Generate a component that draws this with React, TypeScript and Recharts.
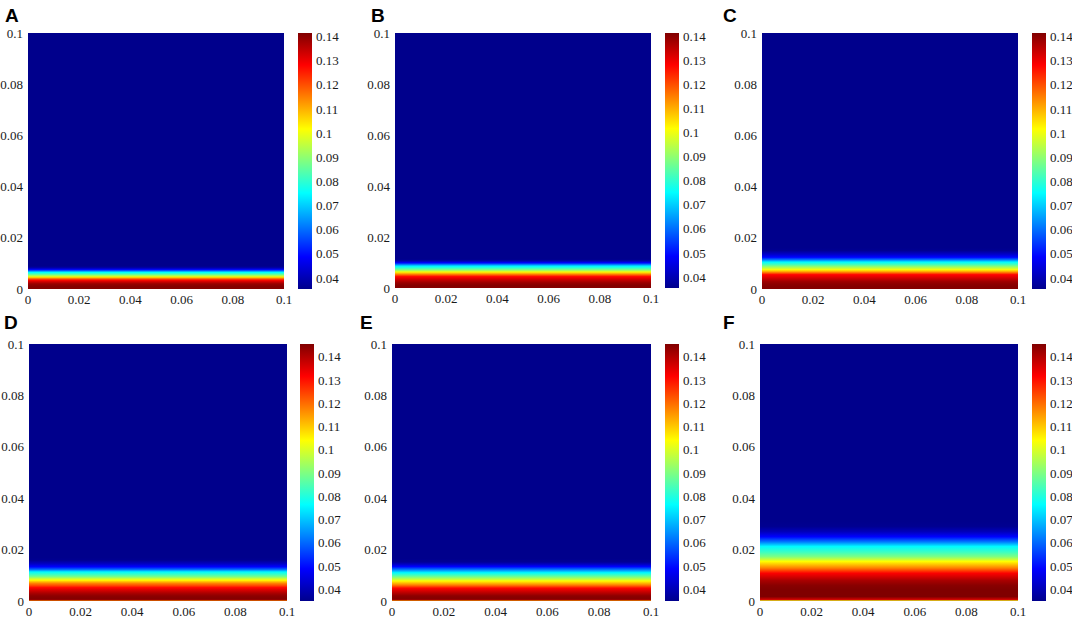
import { ComposedChart, ReferenceArea, XAxis, YAxis } from "recharts";

// axis ticks (m) and colour-bar ticks (concentration)
const axisTicks = [0, 0.02, 0.04, 0.06, 0.08, 0.1];
const colorTicks = [0.04, 0.05, 0.06, 0.07, 0.08, 0.09, 0.1, 0.11, 0.12, 0.13, 0.14];

// colour limits of the two rows
const rangeTop = [0.0354, 0.1415];
const rangeBottom = [0.035, 0.1455];

const panelNames = ["A", "B", "C", "D", "E", "F"];

// concentration profiles: depth above the bottom edge (m) -> value
const depthA = [0, 0.001, 0.002, 0.003, 0.0035, 0.004, 0.0045, 0.005, 0.0055, 0.006, 0.0065, 0.007, 0.0075, 0.008, 0.0085, 0.009];
const concA = [0.141, 0.141, 0.139, 0.132, 0.127, 0.118, 0.107, 0.097, 0.088, 0.081, 0.075, 0.063, 0.05, 0.042, 0.037, 0.0355];

const depthB = [0, 0.001, 0.002, 0.003, 0.004, 0.0045, 0.005, 0.0055, 0.006, 0.0065, 0.007, 0.0075, 0.008, 0.0085, 0.009, 0.0095, 0.01, 0.0105, 0.011, 0.0115];
const concB = [0.141, 0.141, 0.139, 0.135, 0.13, 0.127, 0.12, 0.113, 0.105, 0.098, 0.09, 0.084, 0.079, 0.074, 0.066, 0.055, 0.046, 0.04, 0.036, 0.0355];

const depthC = [0, 0.001, 0.002, 0.003, 0.004, 0.005, 0.0056, 0.006, 0.0065, 0.007, 0.0076, 0.008, 0.0089, 0.0095, 0.0105, 0.0115, 0.0124, 0.0135, 0.015, 0.016];
const concC = [0.141, 0.141, 0.14, 0.138, 0.134, 0.13, 0.128, 0.122, 0.115, 0.108, 0.101, 0.097, 0.089, 0.083, 0.075, 0.06, 0.049, 0.042, 0.036, 0.0355];

const depthD = [0, 0.0004, 0.001, 0.002, 0.003, 0.004, 0.0052, 0.006, 0.0068, 0.0075, 0.0081, 0.0088, 0.0094, 0.0103, 0.0113, 0.0123, 0.0133, 0.0145, 0.0159, 0.017];
const concD = [0.115, 0.143, 0.145, 0.144, 0.141, 0.137, 0.131, 0.124, 0.118, 0.111, 0.104, 0.097, 0.09, 0.083, 0.076, 0.06, 0.049, 0.041, 0.0355, 0.035];

const depthE = [0, 0.0004, 0.001, 0.002, 0.003, 0.004, 0.005, 0.0062, 0.007, 0.0078, 0.0085, 0.0093, 0.01, 0.011, 0.0122, 0.0134, 0.0143, 0.0152, 0.0165];
const concE = [0.112, 0.142, 0.145, 0.144, 0.14, 0.136, 0.131, 0.118, 0.111, 0.104, 0.097, 0.09, 0.084, 0.076, 0.062, 0.049, 0.041, 0.036, 0.035];

const depthF = [0, 0.0006, 0.0017, 0.003, 0.0045, 0.0061, 0.008, 0.0095, 0.0108, 0.0118, 0.0128, 0.0141, 0.0154, 0.0163, 0.0173, 0.019, 0.0212, 0.023, 0.025, 0.027, 0.029, 0.031];
const concF = [0.1, 0.137, 0.1455, 0.1455, 0.1455, 0.1445, 0.141, 0.136, 0.132, 0.125, 0.118, 0.111, 0.104, 0.097, 0.09, 0.083, 0.076, 0.062, 0.049, 0.04, 0.0355, 0.035];

const depths = [depthA, depthB, depthC, depthD, depthE, depthF];
const concs = [concA, concB, concC, concD, concE, concF];
const ranges = [rangeTop, rangeTop, rangeTop, rangeBottom, rangeBottom, rangeBottom];

// page geometry: plot box, colour bar x, panel letter
const boxes = [
  { x: 28, y: 33, w: 256, h: 256, bar: 298, lx: 5, ly: 6 },
  { x: 395, y: 33, w: 256, h: 255, bar: 665, lx: 371, ly: 6 },
  { x: 762, y: 33, w: 256, h: 256, bar: 1032, lx: 723, ly: 6 },
  { x: 29, y: 344, w: 258, h: 257, bar: 300, lx: 4, ly: 313 },
  { x: 392, y: 344, w: 259, h: 257, bar: 665, lx: 360, ly: 313 },
  { x: 760, y: 344, w: 258, h: 257, bar: 1032, lx: 723, ly: 313 },
];

const tickStyle = { fill: "#1a1a1a", fontSize: 13, fontFamily: "'Liberation Serif', 'Times New Roman', serif" };

const clamp = (v: number) => Math.max(0, Math.min(1, v));

function jet(t: number) {
  const u = clamp(t);
  const r = clamp(Math.min(4 * u - 1.5, -4 * u + 4.5));
  const g = clamp(Math.min(4 * u - 0.5, -4 * u + 3.5));
  const b = clamp(Math.min(4 * u + 0.55, -4 * u + 2.5));
  const h = (v: number) => Math.round(v * 255).toString(16).padStart(2, "0");
  return `#${h(r)}${h(g)}${h(b)}`;
}

const fmt = (v: number) => String(v);

function Panel({ i }: { i: number }) {
  const box = boxes[i];
  const depth = depths[i];
  const conc = concs[i];
  const range = ranges[i];
  const name = panelNames[i];
  const span = range[1] - range[0];
  const top = depth[depth.length - 1];
  const fieldId = `field-${name}`;
  const barId = `bar-${name}`;
  const barStops = [0, 0.125, 0.25, 0.375, 0.5, 0.625, 0.75, 0.875, 1];

  return (
    <>
      <div
        style={{
          position: "absolute",
          left: box.lx,
          top: box.ly,
          fontFamily: "'Liberation Sans', Arial, sans-serif",
          fontWeight: 700,
          fontSize: 19,
          lineHeight: "19px",
          color: "#000",
        }}
      >
        {name}
      </div>

      <div style={{ position: "absolute", left: box.x - 40, top: box.y - 10 }}>
        <ComposedChart
          width={box.w + 54}
          height={box.h + 35}
          margin={{ top: 10, right: 14, bottom: 0, left: 0 }}
        >
          <defs>
            <linearGradient id={fieldId} x1="0" y1="1" x2="0" y2="0">
              {depth.map((d, k) => (
                <stop key={k} offset={d / top} stopColor={jet((conc[k] - range[0]) / span)} />
              ))}
            </linearGradient>
          </defs>
          <XAxis
            type="number"
            dataKey="x"
            domain={[0, 0.1]}
            ticks={axisTicks}
            interval={0}
            height={25}
            tickSize={0}
            tickMargin={6}
            axisLine={false}
            tickLine={false}
            tick={tickStyle}
            tickFormatter={fmt}
            allowDataOverflow
          />
          <YAxis
            type="number"
            dataKey="y"
            domain={[0, 0.1]}
            ticks={axisTicks}
            interval={0}
            width={40}
            tickSize={0}
            tickMargin={5}
            axisLine={false}
            tickLine={false}
            tick={tickStyle}
            tickFormatter={fmt}
            allowDataOverflow
          />
          <ReferenceArea x1={0} x2={0.1} y1={0} y2={0.1} fill={jet(0)} fillOpacity={1} stroke="none" />
          <ReferenceArea x1={0} x2={0.1} y1={0} y2={top} fill={`url(#${fieldId})`} fillOpacity={1} stroke="none" />
        </ComposedChart>
      </div>

      <div style={{ position: "absolute", left: box.bar, top: box.y - 10 }}>
        <ComposedChart
          width={14 + 40}
          height={box.h + 20}
          margin={{ top: 10, right: 0, bottom: 10, left: 0 }}
        >
          <defs>
            <linearGradient id={barId} x1="0" y1="1" x2="0" y2="0">
              {barStops.map((s) => (
                <stop key={s} offset={s} stopColor={jet(s)} />
              ))}
            </linearGradient>
          </defs>
          <XAxis type="number" dataKey="x" domain={[0, 1]} hide allowDataOverflow />
          <YAxis
            type="number"
            dataKey="c"
            orientation="right"
            domain={range}
            ticks={colorTicks}
            interval={0}
            width={40}
            tickSize={0}
            tickMargin={4}
            axisLine={false}
            tickLine={false}
            tick={tickStyle}
            tickFormatter={fmt}
            allowDataOverflow
          />
          <ReferenceArea x1={0} x2={1} y1={range[0]} y2={range[1]} fill={`url(#${barId})`} fillOpacity={1} stroke="none" />
        </ComposedChart>
      </div>
    </>
  );
}

export default function App() {
  return (
    <div
      style={{
        position: "absolute",
        left: 0,
        top: 0,
        width: 1072,
        height: 620,
        background: "#fff",
        overflow: "hidden",
      }}
    >
      {panelNames.map((_, i) => (
        <Panel key={i} i={i} />
      ))}
    </div>
  );
}
